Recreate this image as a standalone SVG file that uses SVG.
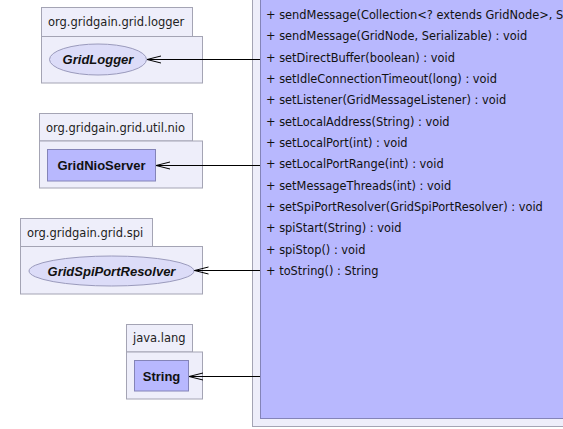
<svg xmlns="http://www.w3.org/2000/svg" width="563" height="429" viewBox="0 0 563 429">
<defs>
<style>
.pkg{fill:#eeeefa;stroke:#a4a4b4;stroke-width:1}
.cls{fill:#b8b8fe;stroke:#8484b8;stroke-width:1}
.ifc{fill:#dcdcf8;stroke:#9a9abc;stroke-width:1}
.pl{font-family:"DejaVu Sans","Liberation Sans",sans-serif;font-size:11.5px;fill:#222}
.cn{font-family:"Liberation Sans",Arial,sans-serif;font-size:13px;font-weight:bold;fill:#111}
.it{font-style:italic}
.m{font-family:"DejaVu Sans","Liberation Sans",sans-serif;font-size:11.4px;fill:#111}
.edge{stroke:#000;stroke-width:1;fill:none}
</style>
<marker id="open" markerWidth="16" markerHeight="10" refX="15" refY="5" orient="auto" markerUnits="userSpaceOnUse">
<path d="M1,1.5 L15,5 L1,8.5" fill="none" stroke="#000" stroke-width="1"/>
</marker>
</defs>
<rect x="0" y="0" width="563" height="429" fill="#ffffff"/>

<g id="pkg-main">
<rect class="pkg" x="252.5" y="-5" width="320" height="431.5"/>
</g>
<g id="node-main">
<rect class="cls" x="260.5" y="-5" width="310" height="423.5"/>
<text class="m" x="266" y="19">+ sendMessage(Collection&lt;? extends GridNode&gt;, S</text>
<text class="m" x="266" y="40">+ sendMessage(GridNode, Serializable) : void</text>
<text class="m" x="266" y="61.5">+ setDirectBuffer(boolean) : void</text>
<text class="m" x="266" y="83">+ setIdleConnectionTimeout(long) : void</text>
<text class="m" x="266" y="104">+ setListener(GridMessageListener) : void</text>
<text class="m" x="266" y="125.5">+ setLocalAddress(String) : void</text>
<text class="m" x="266" y="147">+ setLocalPort(int) : void</text>
<text class="m" x="266" y="168">+ setLocalPortRange(int) : void</text>
<text class="m" x="266" y="189.5">+ setMessageThreads(int) : void</text>
<text class="m" x="266" y="211">+ setSpiPortResolver(GridSpiPortResolver) : void</text>
<text class="m" x="266" y="232">+ spiStart(String) : void</text>
<text class="m" x="266" y="253.5">+ spiStop() : void</text>
<text class="m" x="266" y="275">+ toString() : String</text>
</g>

<g id="pkg-logger">
<rect class="pkg" x="41.5" y="7.5" width="151" height="29"/>
<rect class="pkg" x="41.5" y="36.5" width="161" height="46.5"/>
<text class="pl" x="48" y="26">org.gridgain.grid.logger</text>
</g>
<g id="node-GridLogger">
<ellipse class="ifc" cx="98" cy="59.5" rx="48.5" ry="15.5"/>
<text class="cn it" x="98" y="64" text-anchor="middle">GridLogger</text>
</g>

<g id="pkg-nio">
<rect class="pkg" x="39.5" y="113.5" width="153" height="27.5"/>
<rect class="pkg" x="39.5" y="141" width="163" height="47"/>
<text class="pl" x="46" y="131.5">org.gridgain.grid.util.nio</text>
</g>
<g id="node-GridNioServer">
<rect class="cls" x="47.5" y="149.5" width="108" height="31.5"/>
<text class="cn" x="101.5" y="170" text-anchor="middle">GridNioServer</text>
</g>

<g id="pkg-spi">
<rect class="pkg" x="20.5" y="218.5" width="132" height="28"/>
<rect class="pkg" x="20.5" y="246.5" width="182" height="47.5"/>
<text class="pl" x="27" y="237">org.gridgain.grid.spi</text>
</g>
<g id="node-GridSpiPortResolver">
<ellipse class="ifc" cx="111.5" cy="271" rx="82.5" ry="15"/>
<text class="cn it" x="111.5" y="275.5" text-anchor="middle">GridSpiPortResolver</text>
</g>

<g id="pkg-lang">
<rect class="pkg" x="126.5" y="324.5" width="66" height="27.5"/>
<rect class="pkg" x="126.5" y="352" width="76" height="47"/>
<text class="pl" x="133" y="342">java.lang</text>
</g>
<g id="node-String">
<rect class="cls" x="134.5" y="360.5" width="54" height="30.5"/>
<text class="cn" x="161.5" y="380.5" text-anchor="middle">String</text>
</g>

<g id="connectors">
<line class="edge" x1="260" y1="59.5" x2="147" y2="59.5" marker-end="url(#open)"/>
<line class="edge" x1="260" y1="165.5" x2="156" y2="165.5" marker-end="url(#open)"/>
<line class="edge" x1="260" y1="270.5" x2="194.5" y2="270.5" marker-end="url(#open)"/>
<line class="edge" x1="260" y1="376.5" x2="189" y2="376.5" marker-end="url(#open)"/>
</g>
</svg>
